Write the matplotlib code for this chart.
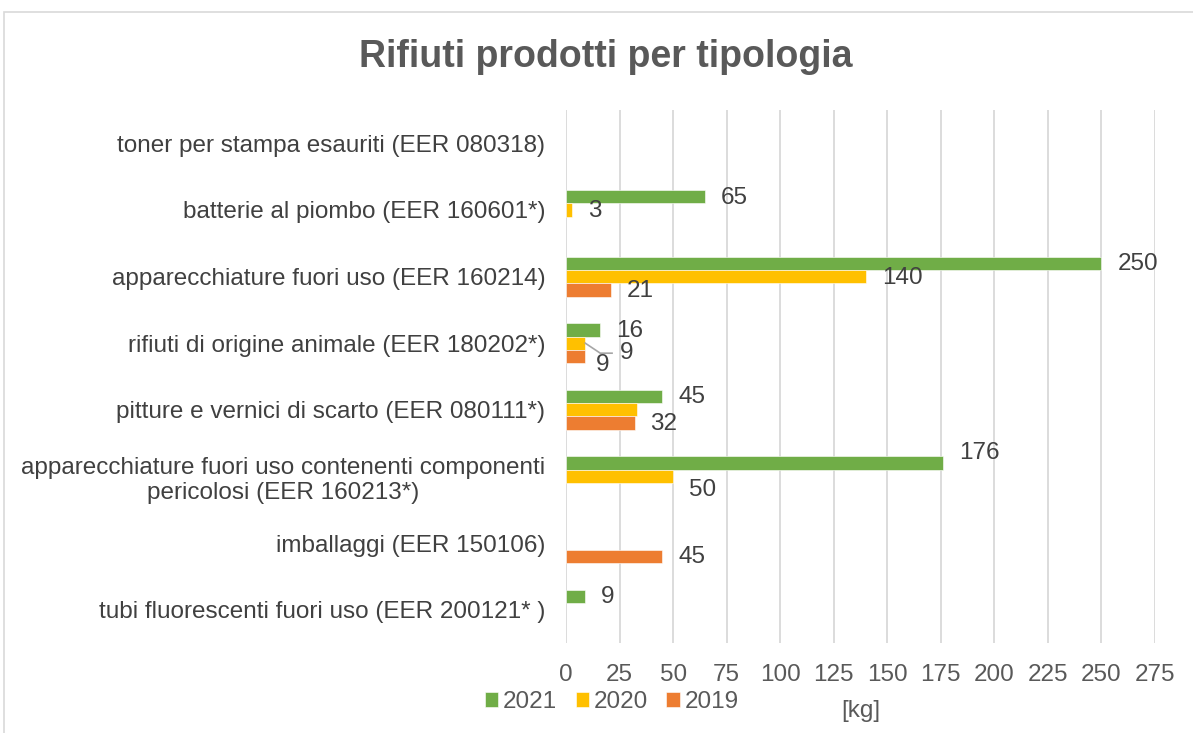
import numpy as np
import matplotlib.pyplot as plt
from matplotlib.patches import Rectangle

plt.rcParams['font.family'] = ['Liberation Sans', 'DejaVu Sans']

# dati
categories = [
    'toner per stampa esauriti (EER 080318)',
    'batterie al piombo (EER 160601*)',
    'apparecchiature fuori uso (EER 160214)',
    'rifiuti di origine animale (EER 180202*)',
    'pitture e vernici di scarto (EER 080111*)',
    'apparecchiature fuori uso contenenti componenti\npericolosi (EER 160213*)',
    'imballaggi (EER 150106)',
    'tubi fluorescenti fuori uso (EER 200121* )',
]
nan = np.nan
v2021 = [nan, 65, 250, 16, 45, 176, nan, 9]
v2020 = [nan, 3, 140, 9, 33, 50, nan, nan]
v2019 = [nan, nan, 21, 9, 32, nan, 45, nan]
# etichette visibili nel grafico originale (None = nessuna etichetta)
lab2021 = [None, '65', '250', '16', '45', '176', None, '9']
lab2020 = [None, '3', '140', '9', None, '50', None, None]
lab2019 = [None, None, '21', '9', '32', None, '45', None]
xticks = [0, 25, 50, 75, 100, 125, 150, 175, 200, 225, 250, 275]

series = [('2021', v2021, lab2021, '#70ad47'),
          ('2020', v2020, lab2020, '#ffc000'),
          ('2019', v2019, lab2019, '#ed7d31')]

fig = plt.figure(figsize=(11.93, 7.33), dpi=100)
ax = fig.add_axes([566 / 1193, 1 - 643 / 733, (1155 - 566) / 1193, (643 - 110) / 733])

# cornice grigia del grafico
fig.patches.append(Rectangle((4 / 1193, -0.1), 1.2, 1.1 - 12 / 733, transform=fig.transFigure,
                             fill=False, edgecolor='#d9d9d9', lw=1.2))

y = np.arange(len(categories))
h = 0.2
# spostamenti manuali (pixel) di alcune etichette come nell'originale
shift = {('2021', 5): (16, 10), ('2020', 5): (16, -14),
         ('2020', 3): (35, -10), ('2019', 3): (11, -8)}

for k, (name, vals, labs, col) in enumerate(series):
    pos = y + (k - 1) * h
    ax.barh(pos, vals, height=h, color=col, label=name, zorder=3,
            edgecolor='white', linewidth=0.4)
    for i, lab in enumerate(labs):
        if lab is None:
            continue
        dx, dy = shift.get((name, i), (16, -1))
        ax.annotate(lab, (vals[i], pos[i]), xytext=(dx * 0.72, dy * 0.72),
                    textcoords='offset points', ha='left', va='center',
                    fontsize=17.5, color='#404040', zorder=4)

# linea guida per l'etichetta spostata (2020, rifiuti di origine animale)
gx = v2020[3]
ax.plot([gx, gx + 7, gx + 12.5], [y[3], y[3] + 0.15, y[3] + 0.15],
        color='#a6a6a6', lw=1.2, zorder=4)

ax.set_xlim(0, 275)
ax.set_ylim(len(categories) - 0.5, -0.5)
ax.set_xticks(xticks)
ax.set_yticks(y)
ax.set_yticklabels(categories, multialignment='center')
ax.tick_params(axis='both', length=0, labelsize=17.5, colors='#595959')
ax.tick_params(axis='y', pad=15, labelcolor='#404040')
ax.tick_params(axis='x', pad=15)
ax.grid(axis='x', color='#d9d9d9', lw=1.3, zorder=0)
for s in ax.spines.values():
    s.set_visible(False)

ax.set_xlabel('[kg]', fontsize=17.5, color='#595959', labelpad=10)
fig.suptitle('Rifiuti prodotti per tipologia', x=606 / 1193, y=1 - 39 / 733, va='top',
             fontsize=27, fontweight='bold', color='#595959')

fig.legend(loc='center left', bbox_to_anchor=(485 / 1193, 1 - 702 / 733), ncol=3,
           frameon=False, fontsize=17.5, handlelength=0.55, handleheight=0.55,
           handletextpad=0.2, columnspacing=0.75, borderpad=0, borderaxespad=0,
           labelcolor='#595959')

fig.savefig('out.png', dpi=100)
